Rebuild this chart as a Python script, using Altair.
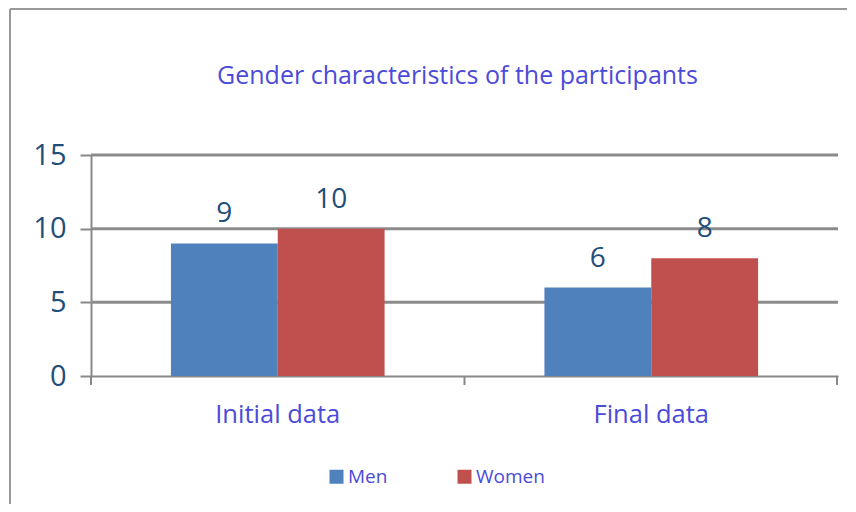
import altair as alt
import pandas as pd

categories = ["Initial data", "Final data"]
series = ["Men", "Women"]
men_values = [9, 6]
women_values = [10, 8]
y_ticks = [0, 5, 10, 15]
title_text = "Gender characteristics of the participants"

rows = []
for i, c in enumerate(categories):
    rows.append({"cat": c, "sex": "Men", "value": men_values[i]})
    rows.append({"cat": c, "sex": "Women", "value": women_values[i]})
df = pd.DataFrame(rows)

W, H = 747, 221
FONT = "Open Sans"
AXC = "#888888"

xscale = alt.Scale(domain=categories, paddingInner=0.428, paddingOuter=0.214)
yscale = alt.Scale(domain=[0, 15], nice=False)
color = alt.Scale(domain=series, range=["#4F81BD", "#C0504D"])

base = alt.Chart(df)

bars = base.mark_bar().encode(
    x=alt.X("cat:N", scale=xscale, sort=categories, title=None,
            axis=alt.Axis(labelAngle=0, labelFontSize=25.5, labelColor="#4B4BD8",
                          labelFont=FONT, labelPadding=26, ticks=False,
                          domainColor=AXC, domainWidth=2, grid=False)),
    xOffset=alt.XOffset("sex:N", sort=series),
    y=alt.Y("value:Q", scale=yscale, title=None,
            axis=alt.Axis(values=y_ticks, labelFontSize=29, labelColor="#1F4E79",
                          labelFont=FONT, labelPadding=14, tickSize=11, tickColor=AXC,
                          tickWidth=2, domainColor=AXC, domainWidth=2,
                          grid=False)),
    color=alt.Color("sex:N", scale=color, sort=series, title=None,
                    legend=alt.Legend(orient="none", legendX=236, legendY=312,
                                      direction="horizontal", symbolType="square",
                                      symbolSize=196, symbolStrokeWidth=0,
                                      labelFontSize=19, labelColor="#4B4BD8",
                                      labelFont=FONT, columnPadding=67,
                                      labelOffset=2)),
)

grid = alt.Chart(pd.DataFrame({"v": [5, 10, 15]})).mark_rule(
    color="#8C8C8C", strokeWidth=3
).encode(y=alt.Y("v:Q", scale=yscale), x=alt.value(0), x2=alt.value(W))

labels = base.mark_text(
    baseline="alphabetic", dy=-21, fontSize=28, color="#1F4E79", font=FONT
).encode(
    x=alt.X("cat:N", scale=xscale, sort=categories),
    xOffset=alt.XOffset("sex:N", sort=series),
    y=alt.Y("value:Q", scale=yscale),
    text="value:Q",
)

one = pd.DataFrame({"a": [0]})

def xtick(px):
    return alt.Chart(one).mark_rule(color=AXC, strokeWidth=2).encode(
        x=alt.value(px), y=alt.value(H), y2=alt.value(H + 9))

title = alt.Chart(one).mark_text(
    fontSize=25, color="#4B4BD8", font=FONT, baseline="middle", align="center"
).encode(x=alt.value(W / 2 - 7), y=alt.value(-79), text=alt.value(title_text))

border_top = alt.Chart(one).mark_rule(color="#999999", strokeWidth=2).encode(
    x=alt.value(-81), x2=alt.value(W + 12), y=alt.value(-146))

border_left = alt.Chart(one).mark_rule(color="#999999", strokeWidth=2).encode(
    x=alt.value(-81), y=alt.value(-146), y2=alt.value(H + 170))

chart = alt.layer(border_top, border_left, grid, bars, labels,
                  xtick(0), xtick(W / 2), xtick(W - 1), title).properties(
    width=W, height=H,
    autosize=alt.AutoSizeParams(type="none"),
    padding={"left": 83, "top": 147, "right": 9, "bottom": 128},
).configure_view(stroke=None)

chart.save("out.html", embed_options={"renderer": "svg", "actions": False})
